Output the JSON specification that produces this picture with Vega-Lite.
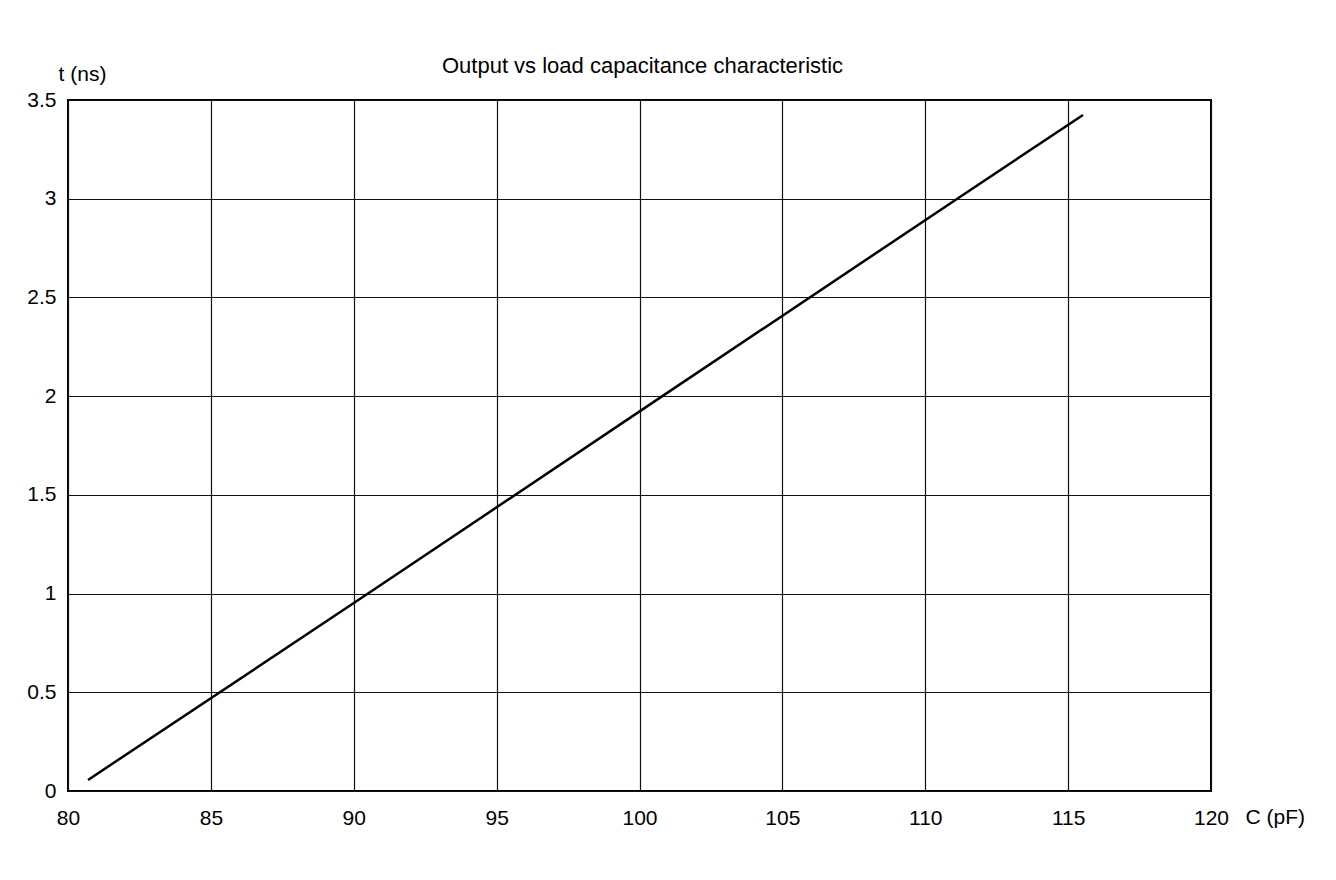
{
  "$schema": "https://vega.github.io/schema/vega-lite/v6.json",
  "autosize": "none",
  "width": 1143,
  "height": 691,
  "padding": {"left": 68, "top": 100, "right": 125, "bottom": 89},
  "background": "white",
  "title": {
    "text": "Output vs load capacitance characteristic",
    "font": "Liberation Sans",
    "fontSize": 22,
    "fontWeight": "normal",
    "color": "black",
    "anchor": "middle",
    "baseline": "alphabetic",
    "offset": -32,
    "dx": 3
  },
  "config": {
    "font": "Liberation Sans",
    "view": {"stroke": "black", "strokeWidth": 2}
  },
  "data": {
    "values": [
      {"C": 80.7, "t": 0.056},
      {"C": 90.5, "t": 1.0},
      {"C": 100.8, "t": 2.0},
      {"C": 111.12, "t": 3.0},
      {"C": 115.52, "t": 3.424}
    ]
  },
  "mark": {"type": "line", "color": "black", "strokeWidth": 2.5, "clip": true},
  "encoding": {
    "x": {
      "field": "C",
      "type": "quantitative",
      "scale": {"domain": [80, 120], "nice": false, "zero": false},
      "axis": {
        "values": [80, 85, 90, 95, 100, 105, 110, 115, 120],
        "format": "~g",
        "title": "C (pF)",
        "titleFont": "Liberation Sans",
        "titleFontSize": 21,
        "titleFontWeight": "normal",
        "titleColor": "black",
        "titleAlign": "left",
        "titleBaseline": "middle",
        "titleAnchor": null,
        "titleX": 1177,
        "titleY": 26,
        "domain": false,
        "ticks": false,
        "labelPadding": 27,
        "labelBaseline": "middle",
        "labelFontSize": 21,
        "labelColor": "black",
        "labelFlush": false,
        "labelOverlap": false,
        "grid": true,
        "gridColor": "#111111",
        "gridWidth": 1.2,
        "gridOpacity": 1
      }
    },
    "y": {
      "field": "t",
      "type": "quantitative",
      "scale": {"domain": [0, 3.5], "nice": false},
      "axis": {
        "values": [0, 0.5, 1, 1.5, 2, 2.5, 3, 3.5],
        "format": "~g",
        "title": "t (ns)",
        "titleFont": "Liberation Sans",
        "titleFontSize": 21,
        "titleFontWeight": "normal",
        "titleColor": "black",
        "titleAngle": 0,
        "titleAlign": "center",
        "titleBaseline": "middle",
        "titleAnchor": null,
        "titleX": 14,
        "titleY": -26,
        "domain": false,
        "ticks": false,
        "labelPadding": 12,
        "labelBaseline": "middle",
        "labelFontSize": 21,
        "labelColor": "black",
        "labelFlush": false,
        "labelOverlap": false,
        "grid": true,
        "gridColor": "#111111",
        "gridWidth": 1.2,
        "gridOpacity": 1
      }
    }
  }
}
